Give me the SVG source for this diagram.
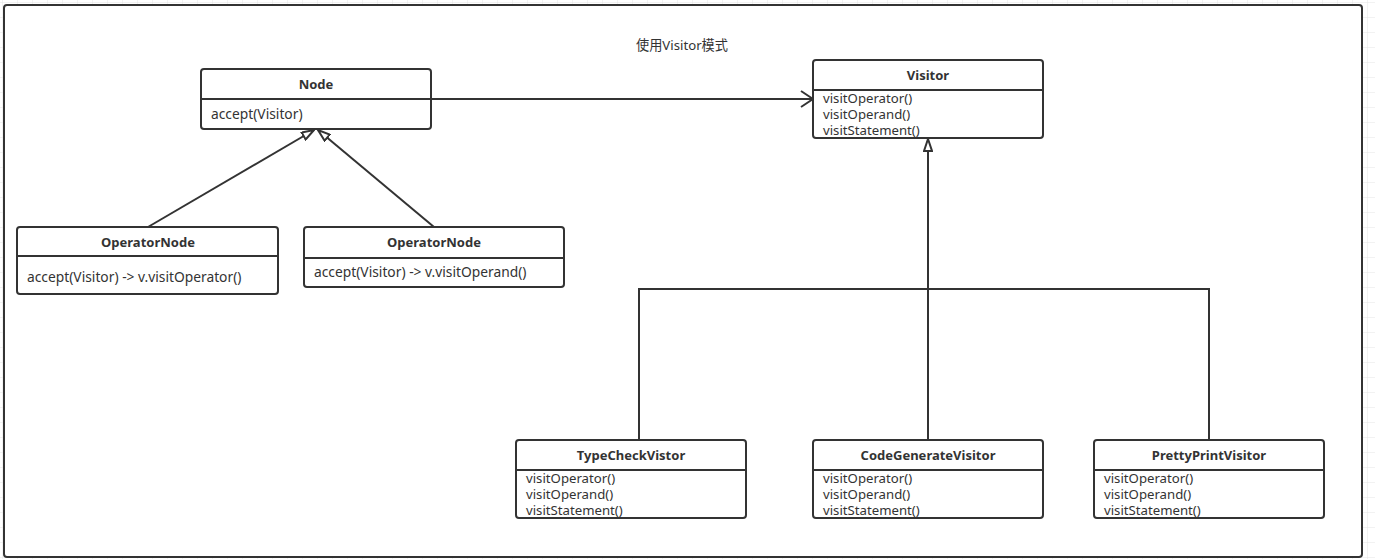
<svg xmlns="http://www.w3.org/2000/svg" width="1375" height="559" viewBox="0 0 1375 559">
<defs>
<pattern id="grid" width="15" height="15" patternUnits="userSpaceOnUse" x="3" y="3">
<path d="M15 0V15M0 15H15" fill="none" stroke="#e4e4e4" stroke-width="1"/>
</pattern>
<marker id="tri" viewBox="0 0 14 10" refX="13" refY="5" markerWidth="14" markerHeight="10" markerUnits="userSpaceOnUse" orient="auto">
<path d="M1,1 L13,5 L1,9 Z" fill="#fff" stroke="#333" stroke-width="2" stroke-linejoin="miter"/>
</marker>
<marker id="open" viewBox="0 0 14 18" refX="13" refY="9" markerWidth="14" markerHeight="18" markerUnits="userSpaceOnUse" orient="auto">
<path d="M1,1 L13,9 L1,17" fill="none" stroke="#333" stroke-width="2"/>
</marker>
</defs>
<style>
.box{fill:#fff;stroke:#333;stroke-width:2}
.div{stroke:#333;stroke-width:2}
.ttl{font-family:"Noto Sans","Liberation Sans",sans-serif;font-size:13px;font-weight:bold;fill:#333;text-anchor:middle}
.mth{font-family:"Noto Sans","Liberation Sans",sans-serif;font-size:13.2px;fill:#333}
.acc{font-family:"Noto Sans","Liberation Sans",sans-serif;font-size:13.8px;fill:#333}
.ln{fill:none;stroke:#333;stroke-width:2}
.cap{font-family:"Noto Sans","Noto Sans CJK SC",sans-serif;font-size:13.2px;fill:#333}
</style>
<rect width="1375" height="559" fill="url(#grid)"/>
<rect x="4" y="5" width="1358" height="552" rx="3" fill="#fff" stroke="#333" stroke-width="2"/>
<text class="cap" x="682" y="50" text-anchor="middle">使用Visitor模式</text>

<g id="connectors">
<line class="ln" x1="431" y1="99" x2="813" y2="99" marker-end="url(#open)"/>
<line class="ln" x1="148" y1="227" x2="314" y2="130" marker-end="url(#tri)"/>
<line class="ln" x1="434" y1="227" x2="318" y2="130" marker-end="url(#tri)"/>
<line class="ln" x1="928" y1="440" x2="928" y2="139" marker-end="url(#tri)"/>
<polyline class="ln" points="639,440 639,289 1209,289 1209,440"/>
</g>

<g id="node">
<rect class="box" x="201" y="69" width="230" height="60" rx="3"/>
<line class="div" x1="201" y1="99" x2="431" y2="99"/>
<text class="ttl" x="316" y="89">Node</text>
<text class="acc" x="211" y="119">accept(Visitor)</text>
</g>

<g id="visitor">
<rect class="box" x="813" y="60" width="230" height="78" rx="3"/>
<line class="div" x1="813" y1="90" x2="1043" y2="90"/>
<text class="ttl" x="928" y="80">Visitor</text>
<text class="mth" x="823" y="103">visitOperator()</text>
<text class="mth" x="823" y="119">visitOperand()</text>
<text class="mth" x="823" y="135">visitStatement()</text>
</g>

<g id="operatornode1">
<rect class="box" x="17" y="227" width="261" height="67" rx="3"/>
<line class="div" x1="17" y1="256" x2="278" y2="256"/>
<text class="ttl" x="148" y="247">OperatorNode</text>
<text class="acc" x="27" y="282">accept(Visitor) -&gt; v.visitOperator()</text>
</g>

<g id="operatornode2">
<rect class="box" x="304" y="227" width="260" height="60" rx="3"/>
<line class="div" x1="304" y1="258" x2="564" y2="258"/>
<text class="ttl" x="434" y="247">OperatorNode</text>
<text class="acc" x="314" y="277">accept(Visitor) -&gt; v.visitOperand()</text>
</g>

<g id="typecheck">
<rect class="box" x="516" y="440" width="230" height="78" rx="3"/>
<line class="div" x1="516" y1="470" x2="746" y2="470"/>
<text class="ttl" x="631" y="460">TypeCheckVistor</text>
<text class="mth" x="526" y="483">visitOperator()</text>
<text class="mth" x="526" y="499">visitOperand()</text>
<text class="mth" x="526" y="515">visitStatement()</text>
</g>

<g id="codegenerate">
<rect class="box" x="813" y="440" width="230" height="78" rx="3"/>
<line class="div" x1="813" y1="470" x2="1043" y2="470"/>
<text class="ttl" x="928" y="460">CodeGenerateVisitor</text>
<text class="mth" x="823" y="483">visitOperator()</text>
<text class="mth" x="823" y="499">visitOperand()</text>
<text class="mth" x="823" y="515">visitStatement()</text>
</g>

<g id="prettyprint">
<rect class="box" x="1094" y="440" width="230" height="78" rx="3"/>
<line class="div" x1="1094" y1="470" x2="1324" y2="470"/>
<text class="ttl" x="1209" y="460">PrettyPrintVisitor</text>
<text class="mth" x="1104" y="483">visitOperator()</text>
<text class="mth" x="1104" y="499">visitOperand()</text>
<text class="mth" x="1104" y="515">visitStatement()</text>
</g>
</svg>
